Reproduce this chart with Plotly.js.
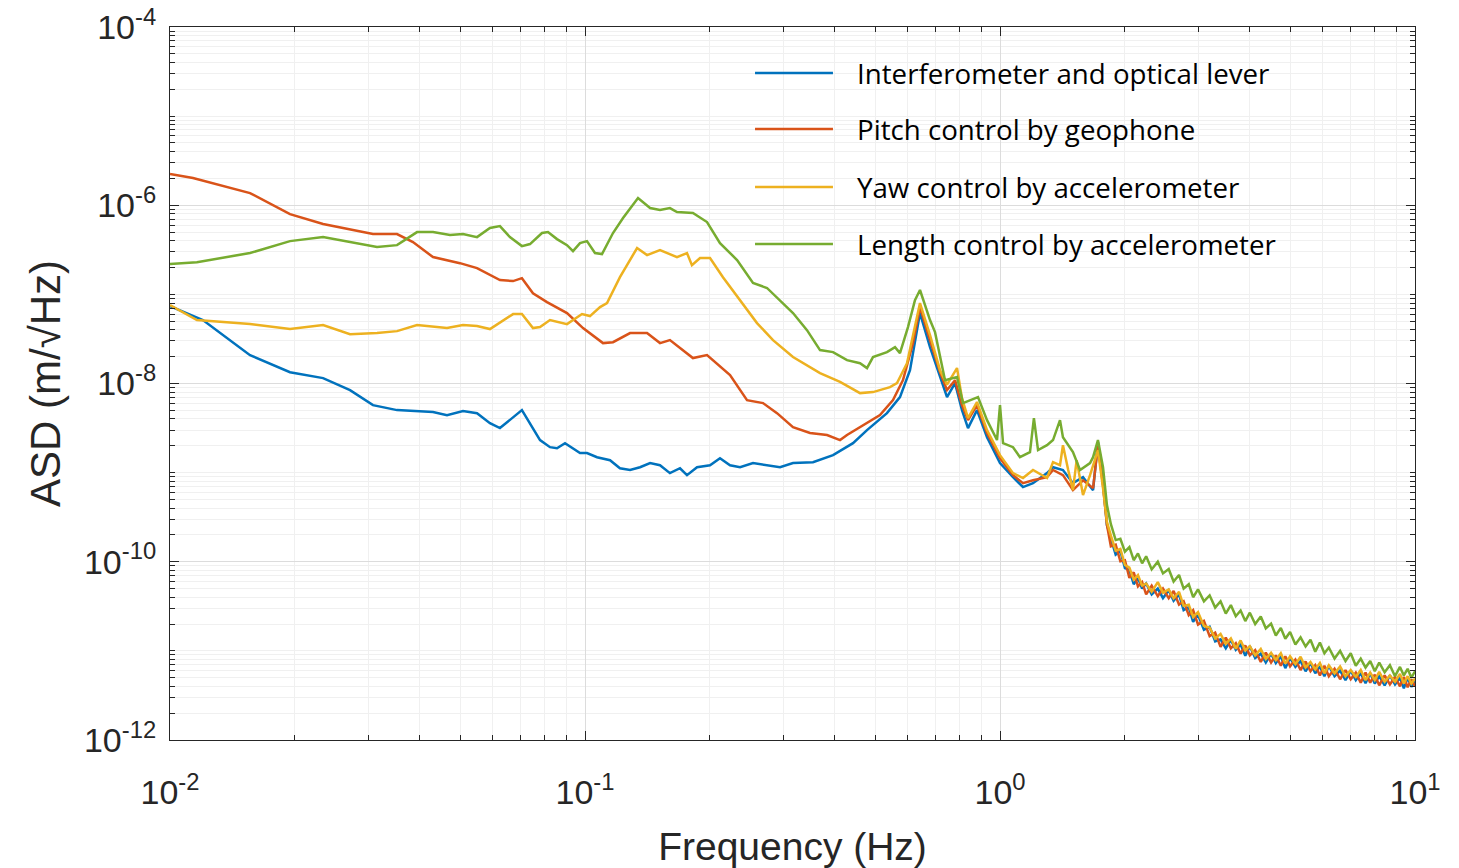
<!DOCTYPE html>
<html>
<head>
<meta charset="utf-8">
<script src="https://cdn.plot.ly/plotly-3.0.1.min.js"></script>
<style>html,body{margin:0;padding:0;background:#fff;}#chart{width:1459px;height:868px;}</style>
</head>
<body>
<div id="chart"></div>
<script>
// ---------- series names and colours ----------
const seriesNames = [
  "Interferometer and optical lever",
  "Pitch control by geophone",
  "Yaw control by accelerometer",
  "Length control by accelerometer"
];
const seriesColors = ["#0072BD", "#D95319", "#EDB120", "#77AC30"];

// ---------- high-frequency grid shared by all series (Hz) ----------
const freqHF = [1.85, 1.9, 1.95, 2.0, 2.05, 2.1, 2.15, 2.2, 2.25, 2.32, 2.4, 2.47, 2.55, 2.62, 2.7, 2.77,
  2.85, 2.92, 3.0, 3.1, 3.2, 3.3, 3.4, 3.5, 3.6, 3.7, 3.8, 3.9, 4.0, 4.12, 4.25, 4.37, 4.5, 4.62, 4.75,
  4.87, 5.0, 5.15, 5.3, 5.45, 5.6, 5.75, 5.9, 6.05, 6.2, 6.4, 6.6, 6.8, 7.0, 7.2, 7.4, 7.6, 7.8, 8.0,
  8.2, 8.45, 8.7, 8.95, 9.2, 9.4, 9.6, 9.8, 10.0];

// ---------- Interferometer and optical lever ----------
const freqIfo = [0.0100, 0.0120, 0.01559, 0.01946, 0.02338, 0.02715, 0.03084, 0.03524, 0.04303, 0.0465,
  0.05082, 0.05493, 0.05902, 0.06238, 0.07047, 0.07792, 0.08235, 0.08561, 0.0895, 0.09727, 0.1011,
  0.1069, 0.1149, 0.1214, 0.1284, 0.1357, 0.1435, 0.1516, 0.1602, 0.1694, 0.1761, 0.1862, 0.2001,
  0.2115, 0.2236, 0.2364, 0.254, 0.2745, 0.2951, 0.3171, 0.3543, 0.396, 0.4424, 0.4781, 0.5341,
  0.5741, 0.6069, 0.631, 0.6415, 0.6782, 0.7169, 0.7453, 0.7792, 0.8099, 0.8374, 0.8801, 0.9305,
  1.000, 1.075, 1.136, 1.201, 1.298, 1.342, 1.418, 1.499, 1.585, 1.676, 1.722, 1.771, 1.81];
const asdIfo = [7.39e-8, 5.15e-8, 2.08e-8, 1.34e-8, 1.15e-8, 8.43e-9, 5.72e-9, 5.03e-9, 4.78e-9, 4.42e-9,
  4.90e-9, 4.65e-9, 3.59e-9, 3.16e-9, 5.03e-9, 2.32e-9, 1.93e-9, 1.88e-9, 2.14e-9, 1.66e-9, 1.66e-9,
  1.49e-9, 1.38e-9, 1.12e-9, 1.07e-9, 1.15e-9, 1.28e-9, 1.21e-9, 9.87e-10, 1.12e-9, 9.37e-10, 1.15e-9, 1.21e-9,
  1.45e-9, 1.21e-9, 1.15e-9, 1.28e-9, 1.21e-9, 1.15e-9, 1.28e-9, 1.31e-9, 1.57e-9, 2.14e-9, 3.00e-9, 4.65e-9,
  7.04e-9, 1.41e-8, 3.97e-8, 6.17e-8, 2.56e-8, 1.18e-8, 7.04e-9, 1.01e-8, 5.03e-9, 3.16e-9, 5.03e-9, 2.50e-9,
  1.28e-9, 8.90e-10, 6.88e-10, 7.62e-10, 9.87e-10, 1.15e-9, 1.07e-9, 7.62e-10, 8.90e-10, 6.36e-10, 2.20e-9, 7.62e-10, 2.58e-10];
const asdIfoHF = [1.83e-10, 1.20e-10, 1.32e-10, 8.5e-11, 8.1e-11, 5.6e-11, 6.6e-11, 5.0e-11, 5.7e-11, 4.3e-11,
  5.0e-11, 3.9e-11, 4.8e-11, 3.65e-11, 4.3e-11, 2.87e-11, 3.1e-11, 2.12e-11, 2.54e-11, 1.73e-11, 1.86e-11,
  1.28e-11, 1.35e-11, 1.07e-11, 1.33e-11, 1.03e-11, 1.18e-11, 8.8e-12, 1.13e-11, 8.3e-12, 9.3e-12, 7.4e-12,
  9.3e-12, 7.3e-12, 8.7e-12, 6.4e-12, 8.4e-12, 6.6e-12, 7.7e-12, 5.9e-12, 7.3e-12, 5.6e-12, 6.7e-12, 5.2e-12,
  6.8e-12, 5.2e-12, 6.0e-12, 4.7e-12, 6.0e-12, 4.7e-12, 5.6e-12, 4.35e-12, 5.6e-12, 4.3e-12, 5.2e-12, 4.1e-12,
  5.3e-12, 4.2e-12, 5.0e-12, 3.8e-12, 5.0e-12, 3.95e-12, 4.55e-12];

// ---------- Pitch control by geophone ----------
const freqPitch = [0.0100, 0.01136, 0.01559, 0.01946, 0.02338, 0.03084, 0.03524, 0.0385, 0.04303, 0.04997,
  0.05493, 0.06238, 0.0671, 0.07047, 0.07493, 0.08099, 0.0905, 0.0989, 0.1105, 0.1168, 0.1284, 0.1411,
  0.1516, 0.1602, 0.182, 0.1968, 0.2236, 0.2457, 0.2685, 0.2902, 0.3171, 0.3485, 0.383, 0.4117, 0.4279,
  0.46, 0.5138, 0.5523, 0.5838, 0.617, 0.6415, 0.6782, 0.7169, 0.7453, 0.7792, 0.8099, 0.8374, 0.8801,
  0.9305, 1.000, 1.075, 1.136, 1.201, 1.298, 1.342, 1.418, 1.499, 1.585, 1.676, 1.722, 1.771, 1.81];
const asdPitch = [2.24e-6, 2.02e-6, 1.37e-6, 7.96e-7, 6.15e-7, 4.75e-7, 4.75e-7, 3.86e-7, 2.62e-7, 2.24e-7,
  1.97e-7, 1.45e-7, 1.41e-7, 1.52e-7, 1.03e-7, 8.19e-8, 6.17e-8, 4.19e-8, 2.84e-8, 2.91e-8, 3.68e-8, 3.68e-8,
  2.84e-8, 3.07e-8, 1.93e-8, 2.08e-8, 1.24e-8, 6.51e-9, 6.03e-9, 4.65e-9, 3.24e-9, 2.78e-9, 2.64e-9, 2.32e-9, 2.64e-9,
  3.24e-9, 4.42e-9, 6.51e-9, 1.09e-8, 2.84e-8, 7.20e-8, 3.07e-8, 1.34e-8, 8.43e-9, 1.09e-8, 5.72e-9, 3.88e-9, 5.72e-9,
  2.78e-9, 1.45e-9, 9.37e-10, 7.62e-10, 8.2e-10, 8.90e-10, 1.07e-9, 9.37e-10, 6.36e-10, 8.2e-10, 6.7e-10, 2.03e-9, 7.2e-10, 2.6e-10];
const asdPitchHF = [1.49e-10, 1.56e-10, 1.01e-10, 1.04e-10, 6.6e-11, 7.6e-11, 5.3e-11, 5.9e-11, 4.3e-11, 5.4e-11,
  4.1e-11, 5.0e-11, 3.9e-11, 4.7e-11, 3.3e-11, 3.6e-11, 2.52e-11, 2.86e-11, 1.97e-11, 2.17e-11, 1.46e-11,
  1.6e-11, 1.11e-11, 1.41e-11, 1.07e-11, 1.22e-11, 9.3e-12, 1.15e-11, 8.9e-12, 1.02e-11, 7.5e-12, 9.6e-12,
  7.4e-12, 8.9e-12, 6.8e-12, 8.7e-12, 6.7e-12, 8.0e-12, 6.1e-12, 7.6e-12, 5.9e-12, 6.9e-12, 5.3e-12, 6.8e-12,
  5.2e-12, 6.3e-12, 4.8e-12, 6.1e-12, 4.8e-12, 5.7e-12, 4.4e-12, 5.7e-12, 4.4e-12, 5.4e-12, 4.1e-12, 5.3e-12,
  4.2e-12, 5.1e-12, 4.0e-12, 5.1e-12, 3.9e-12, 4.8e-12, 4.0e-12];

// ---------- Yaw control by accelerometer ----------
const freqYaw = [0.0100, 0.01161, 0.01559, 0.01946, 0.02338, 0.02715, 0.03154, 0.03524, 0.03938, 0.0465,
  0.05082, 0.05493, 0.05902, 0.0671, 0.07047, 0.07493, 0.07792, 0.08235, 0.0905, 0.09835, 0.1028, 0.1087,
  0.113, 0.1214, 0.1335, 0.1411, 0.1516, 0.1666, 0.1761, 0.181, 0.1893, 0.2001, 0.215, 0.2364, 0.2597,
  0.2838, 0.3171, 0.3684, 0.4117, 0.46, 0.4943, 0.5431, 0.5647, 0.5969, 0.631, 0.6415, 0.6782, 0.7169,
  0.7453, 0.7878, 0.8099, 0.8374, 0.8801, 0.9305, 1.000, 1.075, 1.136, 1.201, 1.298, 1.342, 1.395, 1.418,
  1.46, 1.499, 1.53, 1.585, 1.648, 1.722, 1.771, 1.81];
const asdYaw = [7.59e-8, 5.15e-8, 4.64e-8, 4.08e-8, 4.52e-8, 3.58e-8, 3.68e-8, 3.87e-8, 4.52e-8, 4.19e-8,
  4.52e-8, 4.41e-8, 4.08e-8, 6.01e-8, 6.01e-8, 4.19e-8, 4.30e-8, 5.15e-8, 4.64e-8, 6.01e-8, 5.71e-8, 7.20e-8,
  7.99e-8, 1.56e-7, 3.31e-7, 2.76e-7, 3.14e-7, 2.62e-7, 2.91e-7, 2.13e-7, 2.56e-7, 2.56e-7, 1.56e-7, 8.63e-8, 4.76e-8,
  3.07e-8, 1.98e-8, 1.31e-8, 1.04e-8, 7.80e-9, 8.01e-9, 9.11e-9, 1.01e-8, 1.69e-8, 5.56e-8, 7.99e-8, 3.5e-8, 1.41e-8,
  9.7e-9, 1.49e-8, 6.8e-9, 4.09e-9, 6.2e-9, 3.0e-9, 1.57e-9, 9.87e-10, 8.7e-10, 1.07e-9, 8.7e-10, 1.31e-9, 1.21e-9, 2.03e-9,
  1.07e-9, 6.36e-10, 1.38e-9, 5.6e-10, 9.37e-10, 1.79e-9, 6.7e-10, 2.8e-10];
const asdYawHF = [1.96e-10, 1.33e-10, 1.39e-10, 9.2e-11, 8.6e-11, 6.3e-11, 7.1e-11, 5.4e-11, 5.7e-11, 4.6e-11,
  5.9e-11, 4.5e-11, 4.9e-11, 3.9e-11, 4.6e-11, 3.2e-11, 3.3e-11, 2.4e-11, 2.72e-11, 1.9e-11, 1.83e-11,
  1.38e-11, 1.55e-11, 1.2e-11, 1.38e-11, 1.06e-11, 1.31e-11, 1.01e-11, 1.13e-11, 8.9e-12, 1.05e-11, 8.1e-12,
  9.5e-12, 7.9e-12, 9.4e-12, 7.2e-12, 8.7e-12, 7.1e-12, 8.6e-12, 6.5e-12, 7.5e-12, 6.2e-12, 7.3e-12, 5.6e-12,
  6.9e-12, 5.6e-12, 6.7e-12, 5.2e-12, 6.1e-12, 5.1e-12, 6.1e-12, 4.7e-12, 5.7e-12, 4.7e-12, 5.8e-12, 4.5e-12,
  5.3e-12, 4.5e-12, 5.5e-12, 4.3e-12, 5.2e-12, 4.3e-12, 4.9e-12];

// ---------- Length control by accelerometer ----------
const freqLen = [0.0100, 0.01161, 0.01559, 0.01946, 0.02338, 0.02715, 0.03154, 0.03524, 0.03938, 0.04303,
  0.04728, 0.05082, 0.05493, 0.05902, 0.06238, 0.06592, 0.07047, 0.0737, 0.07878, 0.08144, 0.08561, 0.0905,
  0.09356, 0.09727, 0.1011, 0.1057, 0.1099, 0.1168, 0.1235, 0.1342, 0.1435, 0.1516, 0.1602, 0.1666, 0.182,
  0.1968, 0.2115, 0.2325, 0.254, 0.2745, 0.2951, 0.3171, 0.3427, 0.3684, 0.396, 0.4279, 0.46, 0.4781, 0.4943,
  0.5341, 0.5585, 0.5741, 0.6002, 0.6239, 0.6415, 0.6782, 0.6973, 0.7371, 0.7878, 0.8144, 0.8851, 0.9305,
  0.9835, 1.000, 1.017, 1.075, 1.117, 1.181, 1.207, 1.235, 1.298, 1.342, 1.395, 1.418, 1.499, 1.559, 1.648,
  1.676, 1.722, 1.771, 1.81];
const asdLen = [2.19e-7, 2.30e-7, 2.91e-7, 3.96e-7, 4.39e-7, 3.86e-7, 3.40e-7, 3.57e-7, 5.00e-7, 5.00e-7,
  4.63e-7, 4.75e-7, 4.39e-7, 5.55e-7, 5.84e-7, 4.39e-7, 3.48e-7, 3.67e-7, 4.88e-7, 5.00e-7, 4.17e-7, 3.57e-7,
  3.06e-7, 3.76e-7, 3.96e-7, 2.91e-7, 2.83e-7, 4.88e-7, 7.18e-7, 1.205e-6, 9.30e-7, 8.83e-7, 9.30e-7, 8.39e-7, 8.18e-7,
  6.48e-7, 3.76e-7, 2.43e-7, 1.34e-7, 1.18e-7, 8.63e-8, 6.17e-8, 3.97e-8, 2.37e-8, 2.25e-8, 1.83e-8, 1.69e-8, 1.49e-8, 1.98e-8,
  2.25e-8, 2.56e-8, 2.19e-8, 4.30e-8, 8.63e-8, 1.12e-7, 5.15e-8, 3.77e-8, 1.09e-8, 1.18e-8, 6.03e-9, 7.04e-9, 3.88e-9,
  2.32e-9, 5.72e-9, 2.14e-9, 1.93e-9, 1.49e-9, 1.70e-9, 4.09e-9, 1.79e-9, 2.03e-9, 2.32e-9, 3.88e-9, 2.50e-9, 1.70e-9, 1.07e-9, 1.28e-9,
  1.49e-9, 2.32e-9, 1.15e-9, 4.32e-10];
const asdLenHF = [2.64e-10, 1.75e-10, 1.81e-10, 1.30e-10, 1.46e-10, 1.04e-10, 1.24e-10, 9.6e-11, 1.15e-10, 8.2e-11,
  1.0e-10, 7.4e-11, 8.3e-11, 6.0e-11, 7.1e-11, 5.0e-11, 5.6e-11, 4.0e-11, 4.9e-11, 3.6e-11, 4.2e-11,
  3.06e-11, 3.6e-11, 2.62e-11, 3.26e-11, 2.45e-11, 2.84e-11, 2.16e-11, 2.68e-11, 2.0e-11, 2.43e-11, 1.79e-11,
  2.02e-11, 1.49e-11, 1.81e-11, 1.37e-11, 1.63e-11, 1.18e-11, 1.42e-11, 1.12e-11, 1.33e-11, 9.8e-12, 1.24e-11,
  9.4e-12, 1.09e-11, 8.2e-12, 1.0e-11, 7.7e-12, 9.4e-12, 6.8e-12, 8.2e-12, 6.5e-12, 7.7e-12, 5.9e-12, 7.4e-12,
  5.75e-12, 6.9e-12, 5.2e-12, 6.6e-12, 5.3e-12, 6.3e-12, 5.0e-12, 5.9e-12];

// ---------- axis tick labels ----------
const xTickVals = [0.01, 0.1, 1, 10];
const xTickText = ["10<sup>-2</sup>", "10<sup>-1</sup>", "10<sup>0</sup>", "10<sup>1</sup>"];
const yTickVals = [1e-12, 1e-10, 1e-8, 1e-6, 1e-4];
const yTickText = ["10<sup>-12</sup>", "10<sup>-10</sup>", "10<sup>-8</sup>", "10<sup>-6</sup>", "10<sup>-4</sup>"];

const xs = [freqIfo.concat(freqHF), freqPitch.concat(freqHF), freqYaw.concat(freqHF), freqLen.concat(freqHF)];
const ys = [asdIfo.concat(asdIfoHF), asdPitch.concat(asdPitchHF), asdYaw.concat(asdYawHF), asdLen.concat(asdLenHF)];

const traces = seriesNames.map((n, i) => ({
  type: "scatter", mode: "lines", name: n, x: xs[i], y: ys[i],
  line: {color: seriesColors[i], width: 2.5}, showlegend: false, hoverinfo: "skip"
}));

const axisCommon = {
  type: "log", showline: true, linecolor: "#262626", linewidth: 1, mirror: "ticks",
  ticks: "inside", ticklen: 9, tickwidth: 1, tickcolor: "#262626",
  showgrid: true, gridcolor: "#dcdcdc", gridwidth: 1, zeroline: false,
  tickmode: "array",
  tickfont: {family: "Liberation Sans, Arial, sans-serif", size: 34, color: "#262626"},
  minor: {dtick: "D1", ticks: "inside", ticklen: 5, tickcolor: "#262626", showgrid: true, gridcolor: "#f0f0f0", gridwidth: 1}
};

// custom legend (paper coordinates)
const legRowY = [0.9355, 0.8569, 0.7756, 0.6957];
const shapes = [{type: "rect", xref: "paper", yref: "paper", x0: 0.5357, x1: 0.9783, y0: 0.655, y1: 0.9804,
  fillcolor: "#ffffff", line: {width: 0}, layer: "between"}];
const annotations = [];
seriesNames.forEach((n, i) => {
  shapes.push({type: "line", xref: "paper", yref: "paper", x0: 0.4699, x1: 0.5325, y0: legRowY[i], y1: legRowY[i],
    line: {color: seriesColors[i], width: 2.5}, layer: "above"});
  annotations.push({xref: "paper", yref: "paper", x: 0.5502, y: legRowY[i], xanchor: "left", yanchor: "middle",
    text: n, showarrow: false, font: {family: "Open Sans, sans-serif", size: 27.7, color: "#000"}});
});

const layout = {
  width: 1459, height: 868,
  margin: {l: 170, r: 44, t: 27, b: 128},
  paper_bgcolor: "#ffffff", plot_bgcolor: "#ffffff",
  showlegend: false,
  xaxis: Object.assign({}, axisCommon, {
    range: [-2, 1], tickvals: xTickVals, ticktext: xTickText, ticklabelstandoff: 22,
    title: {text: "Frequency (Hz)", font: {family: "Liberation Sans, Arial, sans-serif", size: 39, color: "#262626"}, standoff: 24}
  }),
  yaxis: Object.assign({}, axisCommon, {
    range: [-12, -4], tickvals: yTickVals, ticktext: yTickText, ticklabelstandoff: 6,
    title: {text: "ASD (m/√Hz)", font: {family: "Liberation Sans, Arial, sans-serif", size: 42, color: "#262626"}, standoff: 10}
  }),
  shapes: shapes,
  annotations: annotations
};

Plotly.newPlot("chart", traces, layout, {displayModeBar: false, staticPlot: true});
</script>
</body>
</html>
